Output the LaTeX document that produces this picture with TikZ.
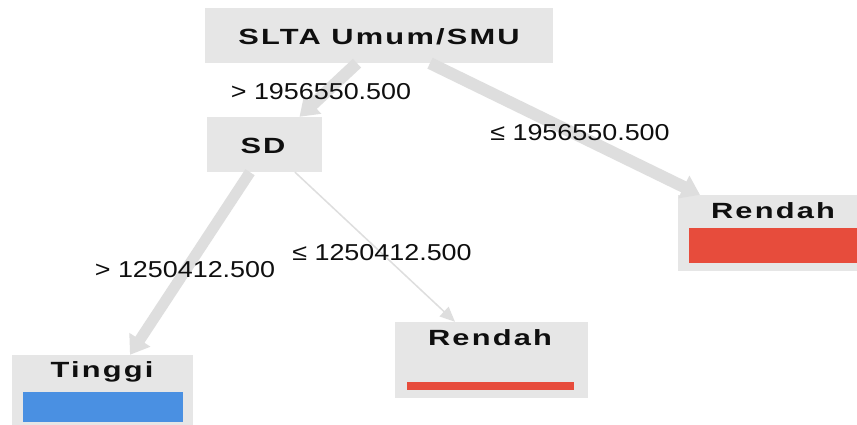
\documentclass[tikz,border=0pt]{standalone}
\usepackage{fontspec}
\setmainfont{Liberation Sans}[FakeStretch=1.17]
\newfontfamily\nodefont{Liberation Sans}[FakeStretch=1.4,LetterSpace=10]
\usetikzlibrary{arrows.meta,calc}
\definecolor{boxgray}{RGB}{230,230,230}
\definecolor{edgegray}{RGB}{222,222,222}
\definecolor{leafblue}{RGB}{74,144,226}
\definecolor{leafred}{RGB}{231,76,60}
\definecolor{txt}{RGB}{15,15,15}
\tikzset{
  box/.style={fill=boxgray,draw=none,inner sep=0pt,minimum width=#1},
  title/.style={font=\nodefont\fontsize{22}{24}\selectfont\bfseries,text=txt,inner sep=0pt},
  cond/.style={font=\fontsize{23}{26}\selectfont,text=txt,inner sep=0pt},
  bar/.style={inner sep=0pt,draw=none},
  thickedge/.style={draw=edgegray,line width=12pt,-{Triangle[length=18pt,width=24pt]}},
  thinedge/.style={draw=edgegray,line width=1.5pt,-{Triangle[length=15pt,width=13pt]}}
}
\begin{document}
\begin{tikzpicture}[x=1pt,y=-1pt]
\useasboundingbox (0,0) rectangle (857,425);
\fill[white] (0,0) rectangle (857,425);
% boxes
\node[box=348pt,minimum height=55pt] (root) at (379,35.5) {};
\node[title] (roott) at (379,37) {SLTA Umum/SMU};
\node[box=115pt,minimum height=55pt] (sd) at (264.5,144.5) {};
\node[title] (sdt) at (263,146) {SD};
\node[box=181pt,minimum height=77pt] (tinggi) at (102.5,393.5) {};
\node[title] (tinggit) at (102,372) {Tinggi};
\node[bar,fill=leafblue,minimum width=160pt,minimum height=30pt] (tinggib) at (102.5,407) {};
\node[box=193pt,minimum height=76pt] (rmid) at (491.5,360) {};
\node[title] (rmidt) at (490,338) {Rendah};
\node[bar,fill=leafred,minimum width=167pt,minimum height=8pt] (rmidb) at (490.5,386) {};
\node[box=190pt,minimum height=76pt] (rright) at (773,233) {};
\node[title] (rrightt) at (773,211) {Rendah};
\node[bar,fill=leafred,minimum width=168pt,minimum height=35pt] (rrightb) at (773,245.5) {};
% edges
\draw[thickedge] ([xshift=-22pt]root.south) -- ([xshift=35pt]sd.north);
\draw[thickedge] ([xshift=51pt]root.south) -- ([xshift=-73pt]rright.north);
\draw[thickedge,line width=11pt] ([xshift=-14.5pt]sd.south) -- ([xshift=27.5pt]tinggi.north);
\draw[thinedge] ([xshift=30.5pt]sd.south) -- ([xshift=-36.5pt]rmid.north);
% labels
\node[cond] (l1) at (321,92) {> 1956550.500};
\node[cond] (l2) at (580,133) {≤ 1956550.500};
\node[cond] (l3) at (185,270) {> 1250412.500};
\node[cond] (l4) at (382,253) {≤ 1250412.500};
\end{tikzpicture}
\end{document}
